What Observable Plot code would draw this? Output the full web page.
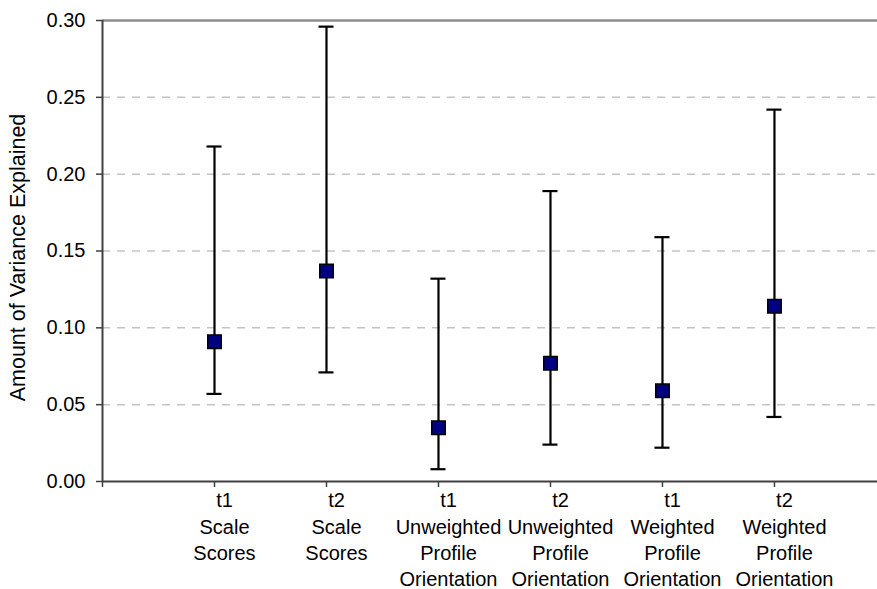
<!DOCTYPE html>
<html>
<head>
<meta charset="utf-8">
<script src="https://cdn.jsdelivr.net/npm/d3@7"></script>
<script src="https://cdn.jsdelivr.net/npm/@observablehq/plot@0.6"></script>
<style>
  html, body { margin: 0; padding: 0; background: #fff; }
  svg { display: block; }
</style>
</head>
<body>
<script>
// --- data ---
const positions = [1, 2, 3, 4, 5, 6];
const times = ["t1", "t2", "t1", "t2", "t1", "t2"];
const methods = [
  "Scale\nScores",
  "Scale\nScores",
  "Unweighted\nProfile\nOrientation",
  "Unweighted\nProfile\nOrientation",
  "Weighted\nProfile\nOrientation",
  "Weighted\nProfile\nOrientation"
];
const estimates = [0.091, 0.137, 0.035, 0.077, 0.059, 0.114];
const lowerCI   = [0.057, 0.071, 0.008, 0.024, 0.022, 0.042];
const upperCI   = [0.218, 0.296, 0.132, 0.189, 0.159, 0.242];
const yTicks = [0, 0.05, 0.10, 0.15, 0.20, 0.25, 0.30];
const gridTicks = [0.05, 0.10, 0.15, 0.20, 0.25];
const xTicks = [0, 1, 2, 3, 4, 5, 6];
const yLabel = "Amount of Variance Explained";

const rows = positions.map((p, i) => ({
  pos: p,
  label: times[i] + "\n" + methods[i],
  est: estimates[i],
  lo: lowerCI[i],
  hi: upperCI[i]
}));

const capHalf = 0.067;

const chart = Plot.plot({
  width: 877,
  height: 589,
  marginLeft: 102,
  marginRight: 0,
  marginTop: 20,
  marginBottom: 108,
  style: { fontFamily: "'Liberation Sans', Arial, sans-serif", color: "#000", background: "#fff" },
  x: { domain: [0, 6.92], axis: null },
  y: { domain: [0, 0.30], axis: null },
  marks: [
    Plot.ruleY(gridTicks, { stroke: "#c4c4c4", strokeWidth: 1.5, strokeDasharray: "8,7" }),
    Plot.ruleY([0.30], { stroke: "#8c8c8c", strokeWidth: 2.5 }),
    Plot.axisY({
      ticks: yTicks,
      tickFormat: d3.format(".2f"),
      tickSize: 6,
      tickPadding: 11,
      fontSize: 20,
      stroke: "#404040",
      strokeWidth: 1.5,
      label: null
    }),
    Plot.axisX({
      ticks: xTicks,
      tickFormat: () => "",
      tickSize: 6,
      stroke: "#404040",
      strokeWidth: 1.5,
      label: null
    }),
    Plot.ruleX([0], { stroke: "#404040", strokeWidth: 2 }),
    Plot.ruleY([0], { stroke: "#404040", strokeWidth: 2 }),
    // error bars
    Plot.ruleX(rows, { x: "pos", y1: "lo", y2: "hi", stroke: "#000", strokeWidth: 2.2 }),
    Plot.ruleY(rows, { y: "lo", x1: d => d.pos - capHalf, x2: d => d.pos + capHalf, stroke: "#000", strokeWidth: 2.2 }),
    Plot.ruleY(rows, { y: "hi", x1: d => d.pos - capHalf, x2: d => d.pos + capHalf, stroke: "#000", strokeWidth: 2.2 }),
    // point estimates
    Plot.dot(rows, { x: "pos", y: "est", symbol: "square", r: 7.6, fill: "#000080", stroke: "#000", strokeWidth: 1.5 }),
    // category labels
    Plot.text(rows, {
      x: "pos", y: () => 0, text: "label",
      lineAnchor: "top", textAnchor: "middle",
      dx: 10, dy: 7, fontSize: 20, lineHeight: 1.32, fill: "#000"
    }),
    // y axis title
    Plot.text([yLabel], {
      frameAnchor: "left", text: d => d, rotate: -90,
      textAnchor: "middle", lineAnchor: "middle",
      dx: -84, dy: 6.5, fontSize: 21.5, fill: "#000"
    })
  ]
});

document.body.appendChild(chart);
</script>
</body>
</html>
